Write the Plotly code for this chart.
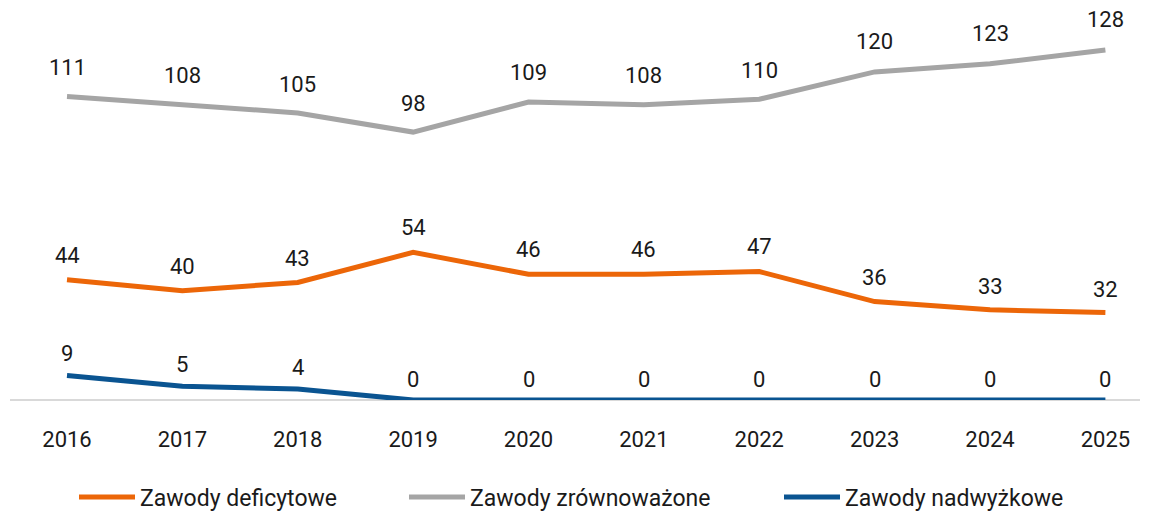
import plotly.graph_objects as go

years = [2016, 2017, 2018, 2019, 2020, 2021, 2022, 2023, 2024, 2025]
deficytowe = [44, 40, 43, 54, 46, 46, 47, 36, 33, 32]
zrownowazone = [111, 108, 105, 98, 109, 108, 110, 120, 123, 128]
nadwyzkowe = [9, 5, 4, 0, 0, 0, 0, 0, 0, 0]

series = [
    ("Zawody deficytowe", deficytowe, "#EC6608", "legend", 82),
    ("Zawody zrównoważone", zrownowazone, "#A5A5A5", "legend2", 412),
    ("Zawody nadwyżkowe", nadwyzkowe, "#0A5491", "legend3", 787),
]

xs = list(range(len(years)))
fig = go.Figure()
legend_layout = {}
for name, vals, col, lg, lx in series:
    fig.add_trace(go.Scatter(x=xs, y=vals, mode="lines", name=name, legend=lg,
                             line=dict(color=col, width=5), cliponaxis=False))
    for xi, v in zip(xs, vals):
        fig.add_annotation(x=xi, y=v, text=str(v), showarrow=False,
                           yshift=21 + 0.075 * v,
                           font=dict(family="Roboto", size=22, color="#1a1a1a"))
    legend_layout[lg] = dict(orientation="h", xref="container", x=(lx - 8) / 1150,
                             xanchor="left", yref="container",
                             y=(511 - 497) / 511, yanchor="middle",
                             font=dict(size=23), itemwidth=56,
                             bgcolor="rgba(0,0,0,0)")

fig.update_layout(
    width=1150, height=511,
    margin=dict(l=10, r=10, t=20, b=111, autoexpand=False),
    plot_bgcolor="white", paper_bgcolor="white",
    font=dict(family="Roboto", size=22, color="#1a1a1a"),
    showlegend=True,
    **legend_layout,
)
fig.update_xaxes(range=[-0.494, 9.30], tickvals=xs, ticktext=[str(y) for y in years],
                 showgrid=False, zeroline=False, showline=False, ticks="",
                 ticklabelstandoff=24)
fig.update_yaxes(range=[0, 139], showgrid=False, zeroline=True, zerolinecolor="#D9D9D9",
                 zerolinewidth=2, showticklabels=False, showline=False)
fig.write_html("out.html", config={"displayModeBar": False},
               post_script="document.body.style.margin='0px';")
